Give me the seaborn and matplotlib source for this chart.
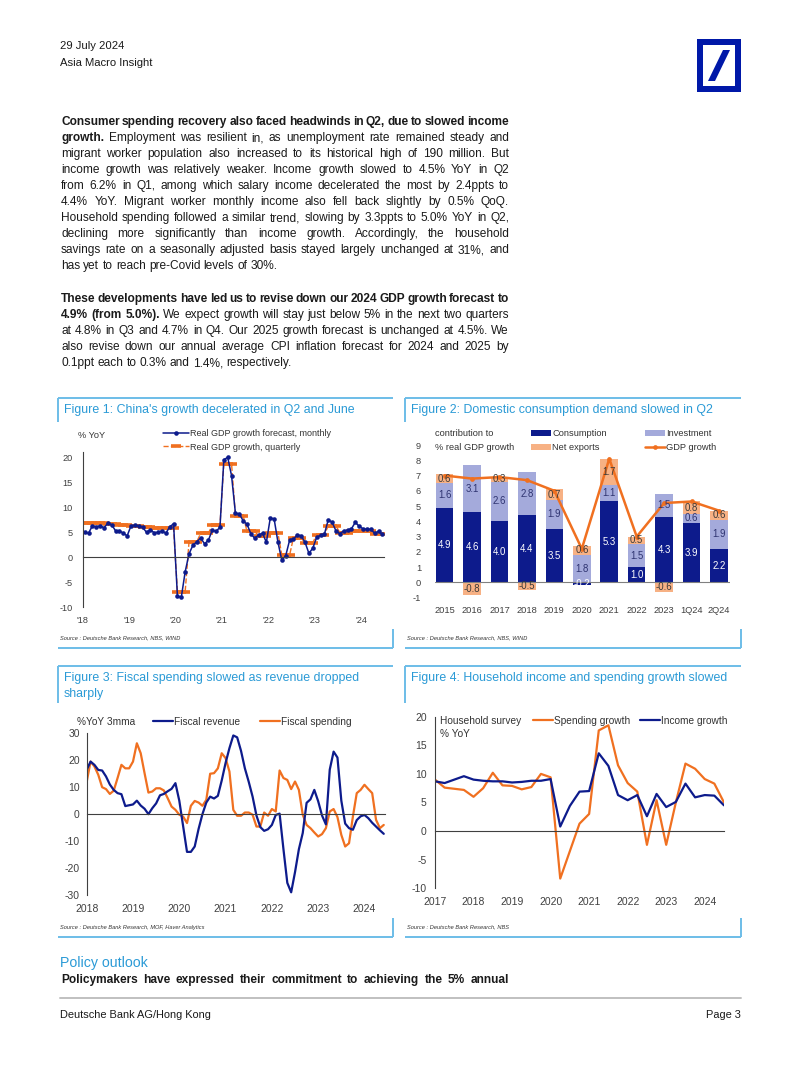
import numpy as np
import matplotlib
matplotlib.use("Agg")
import matplotlib.pyplot as plt
import matplotlib.font_manager as fm
from matplotlib.patches import Rectangle, Polygon, Patch
from matplotlib.lines import Line2D
import seaborn as sns

# ---------------- data ----------------
# Figure 1: monthly GDP forecast (Jan 2018 - Jun 2024) and quarterly real GDP
gdp_monthly = [
    5.0, 4.8, 6.3, 6.1, 6.3, 5.9, 6.8, 6.5, 5.3, 5.3, 4.8, 4.3,      # 2018
    6.3, 6.4, 6.3, 6.0, 5.0, 5.5, 4.9, 5.0, 5.3, 4.8, 6.1, 6.7,      # 2019
    -7.8, -8.0, -2.9, 0.7, 2.4, 3.1, 3.9, 2.7, 3.4, 5.4, 5.2, 6.0,   # 2020
    19.5, 20.0, 16.3, 8.8, 8.7, 7.3, 6.6, 4.7, 3.8, 4.5, 4.8, 3.0,   # 2021
    7.8, 7.7, 3.0, -0.6, 0.3, 3.4, 3.6, 4.5, 4.3, 3.0, 0.8, 1.8,     # 2022
    4.0, 4.4, 4.6, 7.5, 7.0, 5.3, 4.7, 5.3, 5.4, 5.7, 7.0, 6.2,      # 2023
    5.7, 5.6, 5.6, 4.8, 5.2, 4.6,                                    # 2024
]
gdp_quarterly = [6.9, 6.9, 6.7, 6.5, 6.3, 6.0, 5.9, 5.8,
                 -6.9, 3.1, 4.8, 6.4, 18.7, 8.3, 5.2, 4.3,
                 4.8, 0.4, 3.9, 2.9, 4.5, 6.3, 4.9, 5.2, 5.3, 4.7]
fig1_ticklabels = ["'18", "'19", "'20", "'21", "'22", "'23", "'24"]

# Figure 2: contributions to real GDP growth
fig2_categories = ["2015", "2016", "2017", "2018", "2019", "2020", "2021",
                   "2022", "2023", "1Q24", "2Q24"]
consumption = [4.9, 4.6, 4.0, 4.4, 3.5, -0.2, 5.3, 1.0, 4.3, 3.9, 2.2]
investment = [1.6, 3.1, 2.6, 2.8, 1.9, 1.8, 1.1, 1.5, 1.5, 0.6, 1.9]
net_exports = [0.6, -0.8, 0.3, -0.5, 0.7, 0.6, 1.7, 0.5, -0.6, 0.8, 0.6]
gdp_growth = [7.0, 6.8, 6.9, 6.7, 6.0, 2.2, 8.1, 3.0, 5.2, 5.3, 4.7]

# Figure 3: fiscal revenue / spending, %YoY 3mma (Jan 2018 - Jun 2024)
fiscal_revenue = [
    16.5, 19.5, 18.3, 16.4, 16.2, 14.0, 11.0, 9.0, 7.8, 7.4, 3.0, 3.3,
    3.6, 5.0, 3.2, 2.0, 0.0, 2.2, 4.0, 7.0, 7.5, 8.5, 9.4, 11.5,
    5.0, -4.5, -14.0, -14.0, -12.0, -5.5, 0.0, 4.3, 6.5, 5.8, 6.8, 12.5,
    19.0, 24.5, 29.2, 28.5, 23.5, 17.0, 12.0, 6.5, -0.5, -4.8, -6.2, -5.6,
    -4.0, -0.3, 0.2, -13.0, -25.5, -29.0, -21.5, -13.0, -7.0, 4.2, 5.5, 9.0,
    4.8, -0.5, -3.8, 16.5, 23.2, 21.0, 5.0, -3.5, -5.2, -5.8, -2.2, -0.8,
    -0.3, -1.5, -3.2, -4.6, -6.0, -7.3,
]
fiscal_spending = [
    12.0, 19.5, 17.7, 14.6, 10.0, 9.3, 7.5, 8.7, 13.4, 18.3, 17.0, 17.0,
    19.5, 26.3, 22.6, 15.2, 8.0, 8.4, 9.6, 9.6, 8.8, 5.9, 2.8, 1.6,
    -0.2, -0.9, -3.3, 3.1, 4.9, 4.3, 3.1, 5.3, 15.0, 15.2, 17.0, 22.6,
    20.8, 15.8, 1.6, -0.6, -0.6, 0.6, 0.6, -0.2, -4.6, -4.6, 0.6, -0.6,
    1.9, 1.0, 16.2, 13.4, 12.7, 9.3, 12.1, 9.0, -0.2, -4.0, -5.2, -6.8,
    -8.3, -7.4, -5.2, 1.0, 1.9, -1.1, -7.7, -12.0, -10.8, -0.9, 7.8, 9.0,
    10.9, 9.3, 7.8, -2.1, -5.2, -4.0,
]
fig3_years = ["2018", "2019", "2020", "2021", "2022", "2023", "2024"]

# Figure 4: household survey, % YoY (4Q16 - 2Q24, quarterly)
spending_growth = [9.0, 7.6, 7.4, 7.2, 6.0, 7.5, 10.2, 8.0, 7.9, 7.3, 7.7, 10.0,
                   9.4, -8.3, -3.5, 1.3, 3.0, 17.6, 18.5, 11.5, 8.4, 6.9, -2.4,
                   5.4, -2.4, 5.0, 11.8, 10.9, 9.1, 8.3, 5.0]
income_growth = [8.7, 8.4, 9.0, 9.6, 9.0, 8.8, 8.7, 8.7, 8.5, 8.6, 8.8, 8.8,
                 9.1, 0.8, 4.4, 6.9, 7.0, 13.6, 11.4, 6.3, 5.4, 6.3, 2.6,
                 6.5, 4.2, 5.1, 8.3, 5.9, 6.3, 6.2, 4.5]
fig4_years = ["2017", "2018", "2019", "2020", "2021", "2022", "2023", "2024"]

# ---------------- style ----------------
sns.set_theme(style="white")
plt.rcParams["font.family"] = ["Liberation Sans", "DejaVu Sans"]
plt.rcParams["axes.unicode_minus"] = False
available = {f.name for f in fm.fontManager.ttflist}
NARROW = "Liberation Sans Narrow" if "Liberation Sans Narrow" in available else "Liberation Sans"

NAVY = "#0D1B8C"
ORANGE = "#F07020"
INV = "#A4AADB"
NX = "#F7B184"
DB_BLUE = "#0018A8"
TITLE_BLUE = "#2A9AD6"
FRAME = "#6DBDE8"
TXT = "#1A1A1A"
TICK = "#404040"

W, H = 802, 1068
fig = plt.figure(figsize=(W / 100, H / 100), dpi=100)
fig.patch.set_facecolor("white")
renderer = fig.canvas.get_renderer()

pg = fig.add_axes([0, 0, 1, 1])
pg.set_xlim(0, W)
pg.set_ylim(H, 0)
pg.axis("off")


def rect(x0, y0, x1, y1):
    return [x0 / W, 1 - y1 / H, (x1 - x0) / W, (y1 - y0) / H]


def text_width(s, **kw):
    t = pg.text(0, 0, s, **kw)
    w = t.get_window_extent(renderer).width
    t.remove()
    return w


def fit_size(s, target, **kw):
    return 10 * target / text_width(s, fontsize=10, **kw)


# ---------------- header / logo ----------------
hs = fit_size("Asia Macro Insight", 93, family=NARROW)
pg.text(60, 46, "29 July 2024", fontsize=hs, family=NARROW, color=TXT, va="center")
pg.text(60, 63, "Asia Macro Insight", fontsize=hs, family=NARROW, color=TXT, va="center")
pg.add_patch(Rectangle((697, 39), 44, 53, color=DB_BLUE, lw=0))
pg.add_patch(Rectangle((703, 45), 32, 41, color="white", lw=0))
pg.add_patch(Polygon([(708, 81), (715, 81), (730, 50), (723, 50)], closed=True,
                     color=DB_BLUE, lw=0))

# ---------------- body text (justified) ----------------
para1 = [
    [("Consumer spending recovery also faced headwinds in Q2, due to slowed income", True)],
    [("growth.", True), ("Employment was resilient in, as unemployment rate remained steady and", False)],
    [("migrant worker population also increased to its historical high of 190 million. But", False)],
    [("income growth was relatively weaker. Income growth slowed to 4.5% YoY in Q2", False)],
    [("from 6.2% in Q1, among which salary income decelerated the most by 2.4ppts to", False)],
    [("4.4% YoY. Migrant worker monthly income also fell back slightly by 0.5% QoQ.", False)],
    [("Household spending followed a similar trend, slowing by 3.3ppts to 5.0% YoY in Q2,", False)],
    [("declining more significantly than income growth. Accordingly, the household", False)],
    [("savings rate on a seasonally adjusted basis stayed largely unchanged at 31%, and", False)],
    [("has yet to reach pre-Covid levels of 30%.", False)],
]
para2 = [
    [("These developments have led us to revise down our 2024 GDP growth forecast to", True)],
    [("4.9% (from 5.0%).", True), ("We expect growth will stay just below 5% in the next two quarters", False)],
    [("at 4.8% in Q3 and 4.7% in Q4. Our 2025 growth forecast is unchanged at 4.5%. We", False)],
    [("also revise down our annual average CPI inflation forecast for 2024 and 2025 by", False)],
    [("0.1ppt each to 0.3% and 1.4%, respectively.", False)],
]
policy = [[("Policymakers have expressed their commitment to achieving the 5% annual", True)]]

X0, X1 = 61, 509
MIN_GAP = 2.0
BASE = 8.6


def words_of(line):
    out = []
    for s, b in line:
        for w in s.split():
            out.append((w, b))
    return out


SPACE = text_width("a a", fontsize=BASE) - text_width("aa", fontsize=BASE)


def draw_line(line, y, justify):
    ws = words_of(line)
    fs = BASE
    if justify and len(ws) > 1:
        tot = sum(text_width(w, fontsize=BASE, fontweight="bold" if b else "normal")
                  for w, b in ws)
        avail = (X1 - X0) - (len(ws) - 1) * MIN_GAP
        fs = BASE * min(1.0, avail / tot)
    objs, widths = [], []
    for w, b in ws:
        t = pg.text(0, y + 4.0, w, fontsize=fs, fontweight="bold" if b else "normal",
                    color=TXT, va="baseline", ha="left")
        objs.append(t)
        widths.append(t.get_window_extent(renderer).width)
    gap = (X1 - X0 - sum(widths)) / (len(ws) - 1) if (justify and len(ws) > 1) else SPACE
    x = X0
    for t, w in zip(objs, widths):
        t.set_x(x)
        x += w + gap


for i, line in enumerate(para1):
    draw_line(line, 121 + 16.03 * i, i < len(para1) - 1)
for i, line in enumerate(para2):
    draw_line(line, 298.3 + 16.0 * i, i < len(para2) - 1)
draw_line(policy[0], 979, True)

# ---------------- frames, titles, sources ----------------
ts = fit_size("Figure 1: China's growth decelerated in Q2 and June", 292, family=NARROW)
ss = fit_size("Source : Deutsche Bank Research, MOF, Haver Analytics", 145,
              family=NARROW, style="italic")


def frame(xl, xr, ytop, ybar_end, titles, ysrc, src):
    pg.plot([xl, xr], [ytop, ytop], color=FRAME, lw=1.4, solid_capstyle="butt")
    pg.plot([xl, xl], [ytop, ybar_end], color=FRAME, lw=1.4, solid_capstyle="butt")
    for k, s in enumerate(titles):
        pg.text(xl + 6, ytop + 12 + 16 * k, s, fontsize=ts, family=NARROW,
                color=TITLE_BLUE, va="center")
    pg.text(xl + 2, ysrc, src, fontsize=ss, family=NARROW, style="italic",
            color="#333333", va="center")
    yb = ysrc + 10
    pg.plot([xl, xr], [yb, yb], color=FRAME, lw=1.4, solid_capstyle="butt")
    pg.plot([xr, xr], [yb - 19, yb], color=FRAME, lw=1.4, solid_capstyle="butt")


frame(58, 393, 398, 422, ["Figure 1: China's growth decelerated in Q2 and June"], 638,
      "Source : Deutsche Bank Research, NBS, WIND")
frame(405, 741, 398, 422, ["Figure 2: Domestic consumption demand slowed in Q2"], 638,
      "Source : Deutsche Bank Research, NBS, WIND")
frame(58, 393, 666, 703, ["Figure 3: Fiscal spending slowed as revenue dropped", "sharply"], 927,
      "Source : Deutsche Bank Research, MOF, Haver Analytics")
frame(405, 741, 666, 703, ["Figure 4: Household income and spending growth slowed"], 927,
      "Source : Deutsche Bank Research, NBS")

ps = fit_size("Policy outlook", 88, family=NARROW)
pg.text(60, 963, "Policy outlook", fontsize=ps, family=NARROW, color=TITLE_BLUE, va="center")

# footer
pg.plot([60, 741], [998, 998], color="#C0C0C0", lw=1.4)
fs_foot = fit_size("Deutsche Bank AG/Hong Kong", 152, family=NARROW)
pg.text(60, 1015, "Deutsche Bank AG/Hong Kong", fontsize=fs_foot, family=NARROW,
        color=TXT, va="center")
pg.text(741, 1015, "Page 3", fontsize=fs_foot, family=NARROW, color=TXT,
        va="center", ha="right")


# ---------------- helpers for charts ----------------
def style_axes(ax, fs):
    ax.set_facecolor("none")
    for s in ["top", "right"]:
        ax.spines[s].set_visible(False)
    for s in ["left", "bottom"]:
        ax.spines[s].set_color(TICK)
        ax.spines[s].set_linewidth(0.8)
    ax.tick_params(colors=TICK, labelsize=fs, width=0.8)
    ax.grid(False)


def zero_xaxis(ax, ylo, yhi, height_px, gap_px, ticklen=3):
    ax.spines["bottom"].set_position(("data", 0))
    dist = (0 - ylo) / (yhi - ylo) * height_px
    pad_px = dist - ticklen + gap_px
    ax.tick_params(axis="x", direction="out", length=ticklen, pad=pad_px * 0.72)


def add_leg(handle, label, x, y, fs, hl=2.0, tp=0.2, hh=0.7):
    fig.legend([handle], [label], loc="center left", bbox_to_anchor=(x / W, 1 - y / H),
               frameon=False, borderpad=0, borderaxespad=0, handlelength=hl,
               handletextpad=tp, handleheight=hh, fontsize=fs, labelcolor="#333333")


# ---------------- Figure 1 ----------------
r1 = (82.7, 452.3, 384.3, 607.3)
ax1 = fig.add_axes(rect(*r1))
style_axes(ax1, 6.6)
months = 2018 + (np.arange(len(gdp_monthly)) + 0.5) / 12
q_exp = np.repeat(gdp_quarterly, 3)[: len(months)]
sns.lineplot(x=months, y=q_exp, ax=ax1, color=ORANGE, lw=1.0, linestyle="--",
             marker="_", markersize=7.5, markeredgewidth=2.6, markeredgecolor=ORANGE)
sns.lineplot(x=months, y=gdp_monthly, ax=ax1, color=NAVY, lw=1.1, marker="o",
             markersize=3.3, markeredgewidth=0, markerfacecolor=NAVY)
ax1.set_xlim(2018, 2024.5)
ax1.set_ylim(-10, 21)
ax1.set_yticks([-10, -5, 0, 5, 10, 15, 20])
ax1.set_xticks(np.arange(2018, 2025))
ax1.set_xticklabels(fig1_ticklabels)
ax1.tick_params(axis="y", direction="out", length=3, pad=4)
zero_xaxis(ax1, -10, 21, r1[3] - r1[1], 8)
pg.text(78, 435, "% YoY", fontsize=6.6, color="#333333", va="center")
add_leg(Line2D([], [], color=NAVY, lw=1.1, marker="o", ms=3.3, mew=0),
        "Real GDP growth forecast, monthly", 163, 434, 6.5, hl=2.85, tp=0.15)
add_leg(Line2D([], [], color=ORANGE, lw=1.0, ls="--", marker="_", ms=7, mew=2.6),
        "Real GDP growth, quarterly", 163, 447, 6.5, hl=2.85, tp=0.15)

# ---------------- Figure 2 ----------------
r2 = (435, 445, 730, 597.7)
ax2 = fig.add_axes(rect(*r2))
style_axes(ax2, 6.7)
for s in ["left", "bottom"]:
    ax2.spines[s].set_visible(False)
xpos = np.arange(len(fig2_categories))
pos_base = np.zeros(len(xpos))
neg_base = np.zeros(len(xpos))
for vals, col, lab_col in [(consumption, NAVY, "white"), (investment, INV, "#2E3370"),
                           (net_exports, NX, "#3A3A3A")]:
    v = np.array(vals)
    bottoms = np.where(v >= 0, pos_base, neg_base)
    ax2.bar(xpos, v, bottom=bottoms, width=0.64, color=col, lw=0)
    for xi, b, vi in zip(xpos, bottoms, v):
        ax2.text(xi, b + vi / 2, f"{vi:.1f}", ha="center", va="center", fontsize=6.9,
                 color=lab_col)
    pos_base += np.where(v >= 0, v, 0)
    neg_base += np.where(v < 0, v, 0)
ax2.axhline(0, color="#808080", lw=0.8)
sns.lineplot(x=xpos, y=gdp_growth, ax=ax2, color=ORANGE, lw=1.8, marker="o",
             markersize=3.4, markeredgewidth=0, markerfacecolor=ORANGE)
ax2.set_xlim(-0.35, 10.4)
ax2.set_ylim(-1, 9)
ax2.set_yticks(np.arange(-1, 10))
ax2.set_xticks(xpos)
ax2.set_xticklabels(fig2_categories)
ax2.tick_params(axis="y", length=0, pad=10)
ax2.tick_params(axis="x", length=0, pad=6)
pg.text(435, 434, "contribution to", fontsize=6.7, color="#333333", va="center")
pg.text(435, 447, "% real GDP growth", fontsize=6.7, color="#333333", va="center")
add_leg(Patch(color=NAVY, lw=0), "Consumption", 531, 434, 6.7, hl=2.1, tp=0.2, hh=0.6)
add_leg(Patch(color=NX, lw=0), "Net exports", 531, 448, 6.7, hl=2.1, tp=0.2, hh=0.6)
add_leg(Patch(color=INV, lw=0), "Investment", 645, 434, 6.7, hl=2.1, tp=0.2, hh=0.6)
add_leg(Line2D([], [], color=ORANGE, lw=1.8, marker="o", ms=3.4, mew=0), "GDP growth",
        645, 448, 6.7, hl=2.1, tp=0.2)

# ---------------- Figure 3 ----------------
r3 = (86.7, 733.3, 385.3, 895)
ax3 = fig.add_axes(rect(*r3))
style_axes(ax3, 7.5)
m3 = 2018 + np.arange(len(fiscal_revenue)) / 12
sns.lineplot(x=m3, y=fiscal_spending, ax=ax3, color=ORANGE, lw=1.6)
sns.lineplot(x=m3, y=fiscal_revenue, ax=ax3, color=NAVY, lw=1.6)
ax3.set_xlim(2018, 2024.45)
ax3.set_ylim(-30, 30)
ax3.set_yticks(np.arange(-30, 31, 10))
ax3.set_xticks(np.arange(2018, 2025))
ax3.set_xticklabels(fig3_years)
ax3.tick_params(axis="y", direction="out", length=3, pad=2)
zero_xaxis(ax3, -30, 30, r3[3] - r3[1], 8)
pg.text(77, 722, "%YoY 3mma", fontsize=7.3, color="#333333", va="center")
add_leg(Line2D([], [], color=NAVY, lw=1.6), "Fiscal revenue", 153, 722, 7.3, hl=2.0, tp=0.1)
add_leg(Line2D([], [], color=ORANGE, lw=1.6), "Fiscal spending", 260, 722, 7.3, hl=2.0, tp=0.1)

# ---------------- Figure 4 ----------------
r4 = (435, 716.7, 724, 888.3)
ax4 = fig.add_axes(rect(*r4))
style_axes(ax4, 7.5)
q4 = 2017 + np.arange(len(spending_growth)) * 0.25
sns.lineplot(x=q4, y=spending_growth, ax=ax4, color=ORANGE, lw=1.6)
sns.lineplot(x=q4, y=income_growth, ax=ax4, color=NAVY, lw=1.6)
ax4.set_xlim(2017, 2024.5)
ax4.set_ylim(-10, 20)
ax4.set_yticks(np.arange(-10, 21, 5))
ax4.set_xticks(np.arange(2017, 2025))
ax4.set_xticklabels(fig4_years)
ax4.tick_params(axis="y", direction="out", length=3, pad=3)
zero_xaxis(ax4, -10, 20, r4[3] - r4[1], 8)
pg.text(440, 721, "Household survey", fontsize=7.3, color="#333333", va="center")
pg.text(440, 734, "% YoY", fontsize=7.3, color="#333333", va="center")
add_leg(Line2D([], [], color=ORANGE, lw=1.6), "Spending growth", 533, 721, 7.3, hl=2.0, tp=0.1)
add_leg(Line2D([], [], color=NAVY, lw=1.6), "Income growth", 640, 721, 7.3, hl=2.0, tp=0.1)

fig.savefig("out.png", dpi=100, facecolor="white")
